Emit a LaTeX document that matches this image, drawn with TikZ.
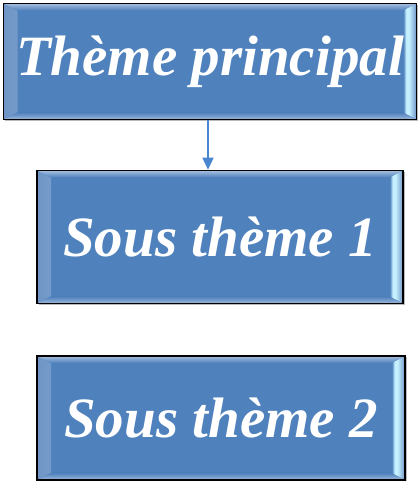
\documentclass[tikz,border=0pt]{standalone}
\usepackage{fontspec}
\usepackage{tikz}
\usetikzlibrary{arrows.meta,shadows}
\newfontfamily\themefont{Liberation Serif}
\definecolor{boxblue}{HTML}{4F81BD}
\definecolor{bevelhi}{HTML}{C4F0FF}
\definecolor{bevelout}{HTML}{6F95C6}
\definecolor{linkblue}{HTML}{4A86CF}
% side strip of the bevel: dull edge, bright ridge, then the face colour
\pgfdeclarehorizontalshading{bevelside}{100bp}{color(0bp)=(bevelout); color(25bp)=(bevelout);
  color(52bp)=(bevelhi); color(62bp)=(bevelhi); color(72bp)=(boxblue); color(100bp)=(boxblue)}
\tikzset{
  % bevelled frame of each theme box
  bevel/.style={path picture={
    \fill[shading=bevelside]
      (path picture bounding box.north west) -- (path picture bounding box.south west)
      -- ([shift={(14pt,7pt)}]path picture bounding box.south west)
      -- ([shift={(14pt,-7pt)}]path picture bounding box.north west) -- cycle;
    \fill[shading=bevelside, shading angle=180]
      (path picture bounding box.north east) -- (path picture bounding box.south east)
      -- ([shift={(-14pt,7pt)}]path picture bounding box.south east)
      -- ([shift={(-14pt,-7pt)}]path picture bounding box.north east) -- cycle;
    \fill[top color=boxblue!50!white, bottom color=boxblue]
      (path picture bounding box.north west) -- (path picture bounding box.north east)
      -- ([shift={(-14pt,-7pt)}]path picture bounding box.north east)
      -- ([shift={(14pt,-7pt)}]path picture bounding box.north west) -- cycle;
    \fill[bottom color=boxblue!55!white, top color=boxblue]
      (path picture bounding box.south west) -- (path picture bounding box.south east)
      -- ([shift={(-14pt,7pt)}]path picture bounding box.south east)
      -- ([shift={(14pt,7pt)}]path picture bounding box.south west) -- cycle;
  }},
  theme/.style={draw=black, line width=1.6pt, fill=boxblue, bevel, text=white,
                align=center, inner sep=0pt,
                drop shadow={shadow xshift=1.5pt, shadow yshift=-1.5pt, fill=black!55},
                font=\themefont\fontsize{57}{62}\selectfont\bfseries\itshape},
  link/.style={draw=linkblue, line width=1.6pt, -{Triangle[length=12pt,width=11pt]}},
}

\begin{document}
\begin{tikzpicture}[x=1pt,y=1pt]
  \useasboundingbox (0,0) rectangle (418,484);
  \node[theme, minimum width=413pt, minimum height=116pt] (main) at (210,422.5) {Thème principal};
  \node[theme, minimum width=366pt, minimum height=133pt] (sub1) at (220,247) {Sous thème 1};
  \node[theme, minimum width=368pt, minimum height=124pt] (sub2) at (221,66) {Sous thème 2};
  \draw[link] ([xshift=-2pt]main.south) -- ([xshift=-2pt]main.south |- sub1.north);
\end{tikzpicture}
\end{document}
